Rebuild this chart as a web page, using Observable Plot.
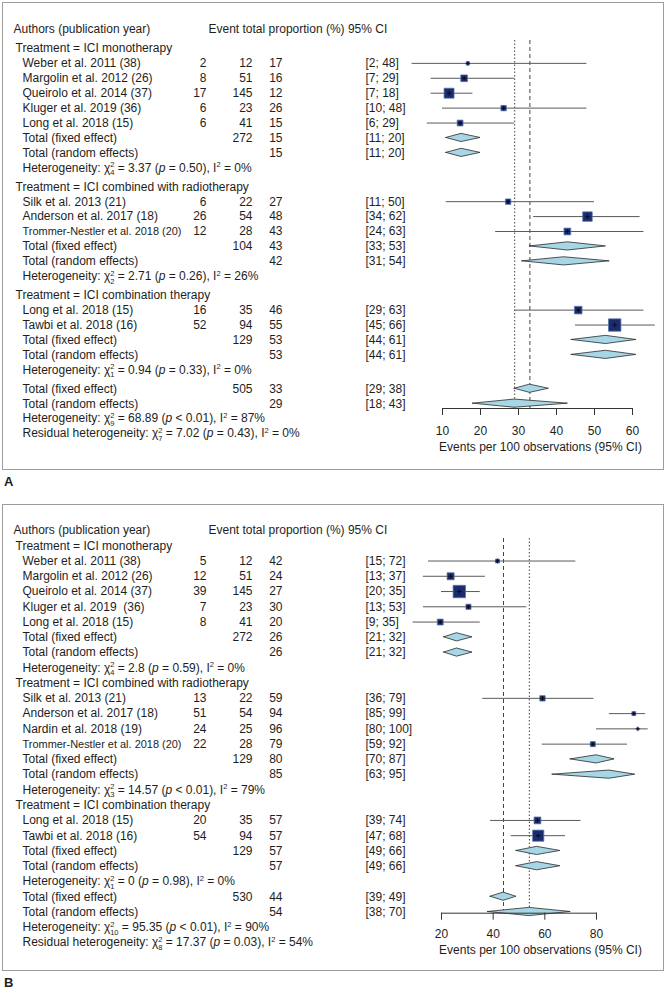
<!DOCTYPE html>
<html><head><meta charset="utf-8">
<script src="https://cdn.jsdelivr.net/npm/d3@7"></script>
<script src="https://cdn.jsdelivr.net/npm/@observablehq/plot@0.6"></script>
<style>
body{margin:0;background:#fff;}
#wrap{position:relative;width:666px;height:989px;font-family:'Liberation Sans',Arial,sans-serif;color:#1e1e1e;}
.panel{position:absolute;left:0;width:666px;height:470px;}
.border{position:absolute;left:2px;width:662px;box-sizing:border-box;border:1.5px solid #9b9b9b;}
.tag{position:absolute;left:4px;font-weight:bold;font-size:13px;line-height:15px;}
</style></head><body>
<div id="wrap">
 <div class="border" style="top:2px;height:468px"></div>
 <div class="panel" id="pA" style="top:0"></div>
 <div class="tag" style="top:474px">A</div>
 <div class="border" style="top:504px;height:467px"></div>
 <div class="panel" id="pB" style="top:502px"></div>
 <div class="tag" style="top:975px">B</div>
</div>
<script>
const groupNames = ["ICI monotherapy", "ICI combined with radiotherapy", "ICI combination therapy"];
const axisTitle = "Events per 100 observations (95% CI)";

// ---- Panel A ----
const namesA = ["Weber et al. 2011 (38)", "Margolin et al. 2012 (26)", "Queirolo et al. 2014 (37)", "Kluger et al. 2019 (36)", "Long et al. 2018 (15)", "Silk et al. 2013 (21)", "Anderson et al. 2017 (18)", "Trommer-Nestler et al. 2018 (20)", "Long et al. 2018 (15)", "Tawbi et al. 2018 (16)"];
const groupA = [0, 0, 0, 0, 0, 1, 1, 1, 2, 2];
const eventsA = [2, 8, 17, 6, 6, 6, 26, 12, 16, 52];
const totalA = [12, 51, 145, 23, 41, 22, 54, 28, 35, 94];
const propA = [17, 16, 12, 26, 15, 27, 48, 43, 46, 55];
const loA = [2, 7, 7, 10, 6, 11, 34, 24, 29, 45];
const hiA = [48, 29, 18, 48, 29, 50, 62, 63, 63, 66];
const weightA = [1.9, 7.5, 16.7, 4.9, 5.7, 4.9, 15.1, 7.7, 9.7, 25.9];
const subNA = [272, 104, 129];
const subFixedA = [15, 43, 53], subFixedLoA = [11, 33, 44], subFixedHiA = [20, 53, 61];
const subRandomA = [15, 42, 53], subRandomLoA = [11, 31, 44], subRandomHiA = [20, 54, 61];
const subDfA = [4, 2, 1], subChiA = ["3.37", "2.71", "0.94"], subPA = ["= 0.50", "= 0.26", "= 0.33"], subI2A = ["0%", "26%", "0%"];
const overallNA = 505;
const overallFixedA = [33, 29, 38];
const overallRandomA = [29, 18, 43];
const overallDfA = [9, 7], overallChiA = ["68.89", "7.02"], overallPA = ["< 0.01", "= 0.43"], overallI2A = ["87%", "0%"];
const ticksA = [10, 20, 30, 40, 50, 60];

// ---- Panel B ----
const namesB = ["Weber et al. 2011 (38)", "Margolin et al. 2012 (26)", "Queirolo et al. 2014 (37)", "Kluger et al. 2019  (36)", "Long et al. 2018 (15)", "Silk et al. 2013 (21)", "Anderson et al. 2017 (18)", "Nardin et al. 2018 (19)", "Trommer-Nestler et al. 2018 (20)", "Long et al. 2018 (15)", "Tawbi et al. 2018 (16)"];
const groupB = [0, 0, 0, 0, 0, 1, 1, 1, 1, 2, 2];
const eventsB = [5, 12, 39, 7, 8, 13, 51, 24, 22, 20, 54];
const totalB = [12, 51, 145, 23, 41, 22, 54, 25, 28, 35, 94];
const propB = [42, 24, 27, 30, 20, 59, 94, 96, 79, 57, 57];
const loB = [15, 13, 20, 13, 9, 36, 85, 80, 59, 39, 47];
const hiB = [72, 37, 35, 53, 35, 79, 99, 100, 92, 74, 68];
const weightB = [3.0, 9.4, 29.3, 5.0, 6.6, 5.5, 2.9, 1.0, 4.8, 8.8, 23.6];
const subNB = [272, 129, 129];
const subFixedB = [26, 80, 57], subFixedLoB = [21, 70, 49], subFixedHiB = [32, 87, 66];
const subRandomB = [26, 85, 57], subRandomLoB = [21, 63, 49], subRandomHiB = [32, 95, 66];
const subDfB = [4, 3, 1], subChiB = ["2.8", "14.57", "0"], subPB = ["= 0.59", "< 0.01", "= 0.98"], subI2B = ["0%", "79%", "0%"];
const overallNB = 530;
const overallFixedB = [44, 39, 49];
const overallRandomB = [54, 38, 70];
const overallDfB = [10, 8], overallChiB = ["95.35", "17.37"], overallPB = ["< 0.01", "= 0.03"], overallI2B = ["90%", "54%"];
const ticksB = [20, 40, 60, 80];

const SUBS = "₀₁₂₃₄₅₆₇₈₉";
const sub = n => String(n).split("").map(c => SUBS[+c]).join("");
const hetText = (label, df, chi, p, i2) => `${label}: χ²${sub(df)} = ${chi} (p ${p}), I² = ${i2}`;
const ciText = (lo, hi) => `[${lo}; ${hi}]`;

function layout(d, gap) {
  const rows = [];
  let pos = 0;
  rows.push({pos, author: "Authors (publication year)", head: "Event total proportion (%) 95% CI"});
  groupNames.forEach((gname, g) => {
    pos += 1 + gap;
    rows.push({pos, group: "Treatment = " + gname});
    d.names.forEach((n, i) => {
      if (d.group[i] !== g) return;
      pos += 1;
      rows.push({pos, kind: "study", name: n, ev: String(d.events[i]), tot: String(d.total[i]), prop: String(d.prop[i]),
        ci: ciText(d.lo[i], d.hi[i]), est: d.events[i] / d.total[i] * 100, lo: d.lo[i], hi: d.hi[i], w: d.weight[i]});
    });
    pos += 1;
    rows.push({pos, kind: "total", name: "Total (fixed effect)", tot: String(d.subN[g]), prop: String(d.subFixed[g]),
      ci: ciText(d.subFixedLo[g], d.subFixedHi[g]), est: d.subFixed[g], lo: d.subFixedLo[g], hi: d.subFixedHi[g]});
    pos += 1;
    rows.push({pos, kind: "total", name: "Total (random effects)", prop: String(d.subRandom[g]),
      ci: ciText(d.subRandomLo[g], d.subRandomHi[g]), est: d.subRandom[g], lo: d.subRandomLo[g], hi: d.subRandomHi[g]});
    pos += 1;
    rows.push({pos, name: hetText("Heterogeneity", d.subDf[g], d.subChi[g], d.subP[g], d.subI2[g])});
  });
  pos += 1 + gap;
  rows.push({pos, kind: "total", name: "Total (fixed effect)", tot: String(d.overallN), prop: String(d.overallFixed[0]),
    ci: ciText(d.overallFixed[1], d.overallFixed[2]), est: d.overallFixed[0], lo: d.overallFixed[1], hi: d.overallFixed[2]});
  pos += 1;
  rows.push({pos, kind: "total", name: "Total (random effects)", prop: String(d.overallRandom[0]),
    ci: ciText(d.overallRandom[1], d.overallRandom[2]), est: d.overallRandom[0], lo: d.overallRandom[1], hi: d.overallRandom[2]});
  pos += 1;
  rows.push({pos, name: hetText("Heterogeneity", d.overallDf[0], d.overallChi[0], d.overallP[0], d.overallI2[0])});
  pos += 1;
  rows.push({pos, name: hetText("Residual heterogeneity", d.overallDf[1], d.overallChi[1], d.overallP[1], d.overallI2[1])});
  return {rows, maxPos: pos};
}

function panel(d, o) {
  const {rows, maxPos} = layout(d, o.gap);
  const W = 666, H = 470, ml = o.ml;
  const studies = rows.filter(r => r.kind === "study");
  const totals = rows.filter(r => r.kind === "total");
  const rowPx = (o.yBottom - o.yTop) / maxPos;
  const h = 4.1 / rowPx;
  const diamonds = totals.flatMap((r, k) => [
    {k, x: r.lo, y1: r.pos, y2: r.pos},
    {k, x: r.est, y1: r.pos - h, y2: r.pos + h},
    {k, x: r.hi, y1: r.pos, y2: r.pos}
  ]);
  const col = (key, x, anchor) => Plot.text(rows.filter(r => r[key] != null), {
    y: "pos", text: key, frameAnchor: "left", dx: x - ml, textAnchor: anchor, fill: "#1e1e1e", fontSize: 12
  });
  return Plot.plot({
    width: W, height: H,
    marginLeft: ml, marginRight: W - o.xr, marginTop: o.refTop, marginBottom: H - o.axisY,
    style: {fontFamily: "'Liberation Sans', Arial, sans-serif", fontSize: "12px", color: "#1e1e1e", background: "transparent", overflow: "visible"},
    x: {domain: o.xDomain},
    y: {domain: [0, maxPos], range: [o.yTop, o.yBottom], axis: null},
    r: {type: "sqrt", domain: [0, o.wMax], range: [0, 7.0]},
    marks: [
      Plot.ruleX([d.overallFixed[0]], {stroke: "#444", strokeWidth: 1, strokeDasharray: "4,3"}),
      Plot.ruleX([d.overallRandom[0]], {stroke: "#444", strokeWidth: 1, strokeDasharray: "1.5,2"}),
      Plot.ruleY(studies, {y: "pos", x1: "lo", x2: "hi", stroke: "#5a5a5a", strokeWidth: 1}),
      Plot.areaY(diamonds, {x: "x", y1: "y1", y2: "y2", z: "k", fill: "#a7d7e6", stroke: "#2a2a2a", strokeWidth: 0.8}),
      Plot.dot(studies, {x: "est", y: "pos", r: "w", symbol: "square", fill: "#1b2b6c", stroke: "#5874b4", strokeWidth: 0.8}),
      Plot.dot(studies, {x: "est", y: "pos", r: 1.6, symbol: "plus", stroke: "#000", strokeWidth: 0.7}),
      Plot.frame({anchor: "bottom", stroke: "#333"}),
      Plot.axisX({ticks: o.ticks, tickSize: 7, tickPadding: o.tickPadding, label: null, stroke: "#333", fill: "#1e1e1e"}),
      Plot.text([axisTitle], {frameAnchor: "bottom-left", dx: 540 - ml, dy: o.titleDy, textAnchor: "middle", fill: "#1e1e1e", fontSize: 12}),
      col("author", 13, "start"),
      col("head", 208, "start"),
      col("group", 15, "start"),
      col("name", 22, "start"),
      col("ev", 206, "end"),
      col("tot", 252, "end"),
      col("prop", 282, "end"),
      col("ci", 365, "start")
    ]
  });
}

function polish(svg) {
  const NS = "http://www.w3.org/2000/svg";
  svg.querySelectorAll("text").forEach(t => {
    const s = t.textContent;
    if (/et al\./.test(s) && t.getComputedTextLength() > 160) {
      t.setAttribute("font-size", "11.5");
      t.setAttribute("textLength", 159);
      t.setAttribute("lengthAdjust", "spacingAndGlyphs");
    }
    const m = s.match(/^(.*?χ)²([₀-₉]+)( = [^(]*\()p( [^)]*\), I)²(.*)$/);
    if (!m) return;
    const df = [...m[2]].map(c => SUBS.indexOf(c)).join("");
    while (t.firstChild) t.removeChild(t.firstChild);
    const add = (txt, attrs = {}) => {
      const e = document.createElementNS(NS, "tspan");
      e.textContent = txt;
      for (const k in attrs) e.setAttribute(k, attrs[k]);
      t.appendChild(e);
      return e;
    };
    add(m[1]);
    const sup = add("2", {"font-size": "7.5", dy: "-4.5"});
    const sw = sup.getComputedTextLength() || 4.2;
    add(df, {"font-size": "7.5", dx: -sw, dy: "8"});
    add(m[3], {dy: "-3.5"});
    add("p", {"font-style": "italic"});
    add(m[4]);
    add("2", {"font-size": "7.5", dy: "-4.5"});
    add(m[5], {dy: "4.5"});
  });
}

const dataA = {names: namesA, group: groupA, events: eventsA, total: totalA, prop: propA, lo: loA, hi: hiA, weight: weightA,
  subN: subNA, subFixed: subFixedA, subFixedLo: subFixedLoA, subFixedHi: subFixedHiA,
  subRandom: subRandomA, subRandomLo: subRandomLoA, subRandomHi: subRandomHiA,
  subDf: subDfA, subChi: subChiA, subP: subPA, subI2: subI2A,
  overallN: overallNA, overallFixed: overallFixedA, overallRandom: overallRandomA,
  overallDf: overallDfA, overallChi: overallChiA, overallP: overallPA, overallI2: overallI2A};
const dataB = {names: namesB, group: groupB, events: eventsB, total: totalB, prop: propB, lo: loB, hi: hiB, weight: weightB,
  subN: subNB, subFixed: subFixedB, subFixedLo: subFixedLoB, subFixedHi: subFixedHiB,
  subRandom: subRandomB, subRandomLo: subRandomLoB, subRandomHi: subRandomHiB,
  subDf: subDfB, subChi: subChiB, subP: subPB, subI2: subI2B,
  overallN: overallNB, overallFixed: overallFixedB, overallRandom: overallRandomB,
  overallDf: overallDfB, overallChi: overallChiB, overallP: overallPB, overallI2: overallI2B};

const svgA = panel(dataA, {gap: 0.27, yTop: 29, yBottom: 433, refTop: 40, axisY: 408, xDomain: [10, 60], ticks: ticksA,
  ml: 442, xr: 632, tickPadding: 11, titleDy: 42, wMax: 25.9});
const svgB = panel(dataB, {gap: 0, yTop: 28, yBottom: 440, refTop: 36, axisY: 410.7, xDomain: [20, 80], ticks: ticksB,
  ml: 441, xr: 596, tickPadding: 9, titleDy: 40.5, wMax: 29.3});
document.getElementById("pA").appendChild(svgA);
document.getElementById("pB").appendChild(svgB);
polish(svgA);
polish(svgB);
</script>
</body></html>
